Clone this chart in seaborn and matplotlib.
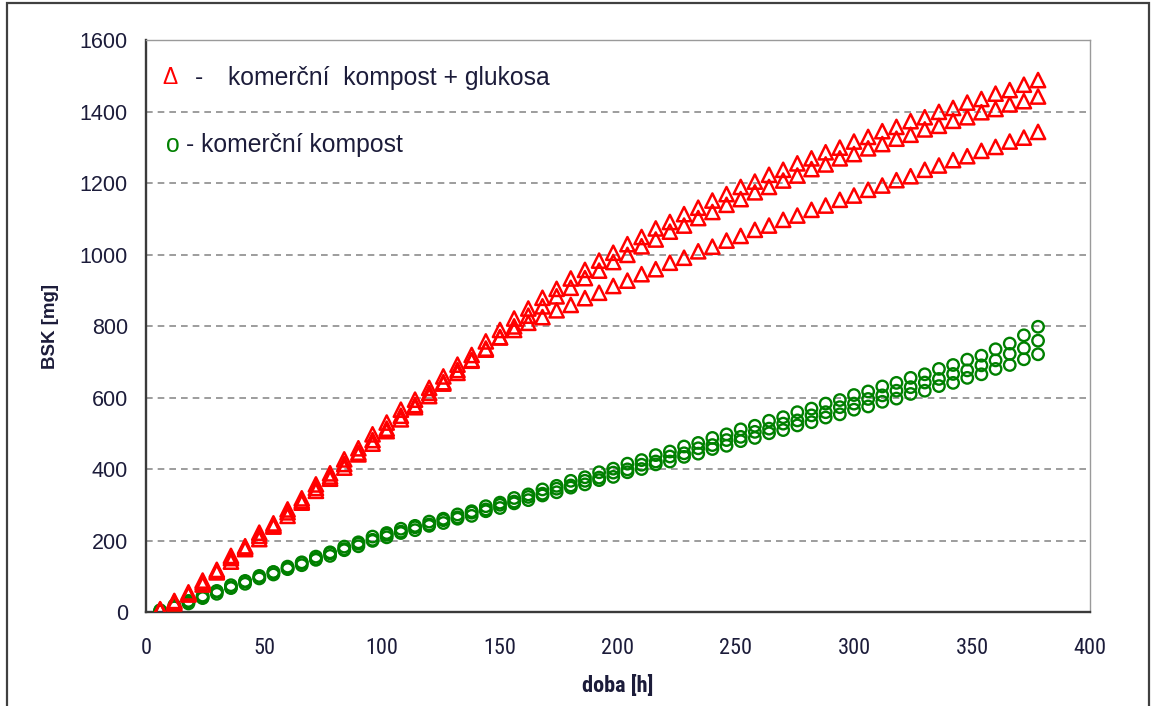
import matplotlib
matplotlib.use("Agg")
import matplotlib.pyplot as plt
import matplotlib.patches as mpatches
import pandas as pd
import seaborn as sns

# measurement times [h]
doba = [6, 12, 18, 24, 30, 36, 42, 48, 54, 60, 66, 72, 78, 84, 90, 96, 102, 108,
        114, 120, 126, 132, 138, 144, 150, 156, 162, 168, 174, 180, 186, 192, 198,
        204, 210, 216, 222, 228, 234, 240, 246, 252, 258, 264, 270, 276, 282, 288,
        294, 300, 306, 312, 318, 324, 330, 336, 342, 348, 354, 360, 366, 372, 378]

# BSK [mg] – commercial compost + glucose (three replicates)
glukosa_1 = [8, 31, 55, 88, 118, 157, 184, 222, 248, 287, 318, 357, 388, 427, 458,
             497, 530, 566, 594, 627, 659, 692, 719, 757, 789, 821, 849, 879, 904,
             933, 957, 983, 1005, 1029, 1049, 1073, 1091, 1113, 1131, 1151, 1169,
             1189, 1204, 1223, 1237, 1255, 1269, 1286, 1299, 1316, 1329, 1345, 1357,
             1373, 1384, 1399, 1410, 1425, 1435, 1450, 1460, 1475, 1488]
glukosa_2 = [5, 24, 49, 77, 111, 141, 176, 204, 239, 269, 306, 339, 373, 404, 441,
             471, 506, 539, 573, 604, 639, 669, 703, 734, 769, 799, 829, 855, 883,
             907, 934, 955, 979, 999, 1023, 1042, 1064, 1081, 1102, 1119, 1139, 1155,
             1174, 1189, 1207, 1221, 1239, 1252, 1269, 1281, 1297, 1309, 1324, 1335,
             1350, 1360, 1374, 1384, 1398, 1407, 1420, 1429, 1442]
glukosa_3 = [6, 28, 51, 83, 114, 151, 181, 213, 243, 279, 311, 347, 379, 414, 446,
             481, 513, 549, 579, 613, 643, 677, 705, 737, 768, 789, 809, 825, 844,
             859, 878, 893, 912, 927, 945, 959, 977, 991, 1009, 1022, 1039, 1052,
             1069, 1081, 1097, 1109, 1125, 1137, 1153, 1165, 1181, 1193, 1208, 1219,
             1237, 1249, 1264, 1275, 1290, 1301, 1316, 1327, 1343]

# BSK [mg] – commercial compost (three replicates)
kompost_1 = [5, 19, 31, 46, 59, 75, 87, 101, 112, 127, 139, 155, 167, 183, 195, 211,
             221, 233, 241, 253, 261, 273, 282, 296, 306, 319, 329, 343, 353, 367,
             377, 391, 401, 415, 425, 439, 449, 463, 473, 487, 497, 511, 521, 535,
             545, 559, 569, 583, 593, 607, 617, 631, 641, 655, 665, 680, 691, 706,
             717, 735, 751, 774, 798]
kompost_2 = [3, 14, 29, 41, 57, 69, 85, 96, 111, 122, 137, 149, 164, 176, 191, 202,
             216, 225, 237, 245, 257, 265, 278, 287, 300, 309, 322, 331, 345, 354,
             367, 376, 390, 399, 412, 421, 435, 444, 458, 467, 481, 490, 504, 513,
             527, 536, 550, 559, 573, 583, 596, 606, 619, 629, 642, 652, 666, 676,
             690, 704, 722, 738, 759]
kompost_3 = [2, 13, 24, 39, 51, 67, 79, 94, 105, 120, 131, 146, 157, 173, 184, 199,
             209, 221, 229, 241, 249, 261, 269, 282, 291, 304, 313, 326, 335, 348,
             357, 369, 378, 391, 400, 413, 421, 434, 443, 456, 465, 478, 487, 500,
             509, 522, 531, 544, 553, 566, 575, 588, 597, 610, 619, 632, 641, 655,
             665, 680, 691, 707, 721]

RED = "#ff0000"
GREEN = "#008000"
TEXT = "#1c1c3a"
NARROW = ["Roboto Condensed", "Archivo Narrow", "Liberation Sans", "DejaVu Sans"]

sns.set_theme(style="white")
plt.rcParams["font.family"] = ["Liberation Sans", "DejaVu Sans"]

fig = plt.figure(figsize=(11.55, 7.06), dpi=100)
ax = fig.add_axes([0.1264, 0.1331, 0.8173, 0.8102])

frames = []
for name, vals in [("k1", kompost_1), ("k2", kompost_2), ("k3", kompost_3)]:
    frames.append(pd.DataFrame({"doba": doba, "BSK": vals, "serie": name}))
kompost_df = pd.concat(frames, ignore_index=True)

frames = []
for name, vals in [("g1", glukosa_1), ("g2", glukosa_2), ("g3", glukosa_3)]:
    frames.append(pd.DataFrame({"doba": doba, "BSK": vals, "serie": name}))
glukosa_df = pd.concat(frames, ignore_index=True)

sns.scatterplot(data=kompost_df, x="doba", y="BSK", marker="o", s=68,
                color=GREEN, edgecolor=GREEN, linewidth=1.7, ax=ax, zorder=3)
sns.scatterplot(data=glukosa_df, x="doba", y="BSK", marker="^", s=105,
                color=RED, edgecolor=RED, linewidth=1.8, ax=ax, zorder=4)
for coll in ax.collections:
    coll.set_facecolor("none")

ax.set_xlim(0, 400)
ax.set_ylim(0, 1600)
ax.set_xticks(range(0, 401, 50))
ax.set_yticks(range(0, 1601, 200))

# dashed horizontal gridlines
for yv in range(200, 1600, 200):
    ax.axhline(yv, color="#8c8c8c", linestyle=(0, (4, 3)), linewidth=1.2, zorder=1)

for side in ["left", "bottom"]:
    ax.spines[side].set_color("#3a3a3a")
    ax.spines[side].set_linewidth(1.7)
for side in ["top", "right"]:
    ax.spines[side].set_color("#9a9a9a")
    ax.spines[side].set_linewidth(1.0)

ax.tick_params(axis="both", direction="in", length=5, width=1.4, color="#3a3a3a",
               labelcolor=TEXT)
ax.tick_params(axis="y", pad=13, labelsize=15.5)
ax.tick_params(axis="x", pad=19)
for lbl in ax.get_xticklabels():
    lbl.set_fontfamily(NARROW)
    lbl.set_fontsize(16)

ax.set_xlabel("doba [h]", fontsize=16, fontweight="bold", color=TEXT, labelpad=11,
              family=NARROW)
ax.set_ylabel("BSK [mg]", fontsize=13.5, fontweight="bold", color=TEXT, labelpad=15)

# legend written as text inside the plot area
ax.text(0.017, 0.934, "Δ", color=RED, fontsize=16.5, transform=ax.transAxes, va="center")
ax.text(0.052, 0.934, "-", color=TEXT, fontsize=17.8, transform=ax.transAxes, va="center")
ax.text(0.087, 0.934, "komerční  kompost + glukosa", color=TEXT, fontsize=17.8,
        transform=ax.transAxes, va="center")
ax.text(0.021, 0.816, "o", color=GREEN, fontsize=17.8, transform=ax.transAxes, va="center")
ax.text(0.042, 0.816, "- komerční kompost", color=TEXT, fontsize=17.8,
        transform=ax.transAxes, va="center")

# chart area frame
fig.patches.append(mpatches.Rectangle((0.006, -0.01), 0.989, 1.006, transform=fig.transFigure,
                                      fill=False, edgecolor="#404040", linewidth=1.6))

fig.savefig("out.png", dpi=100, facecolor="white")
